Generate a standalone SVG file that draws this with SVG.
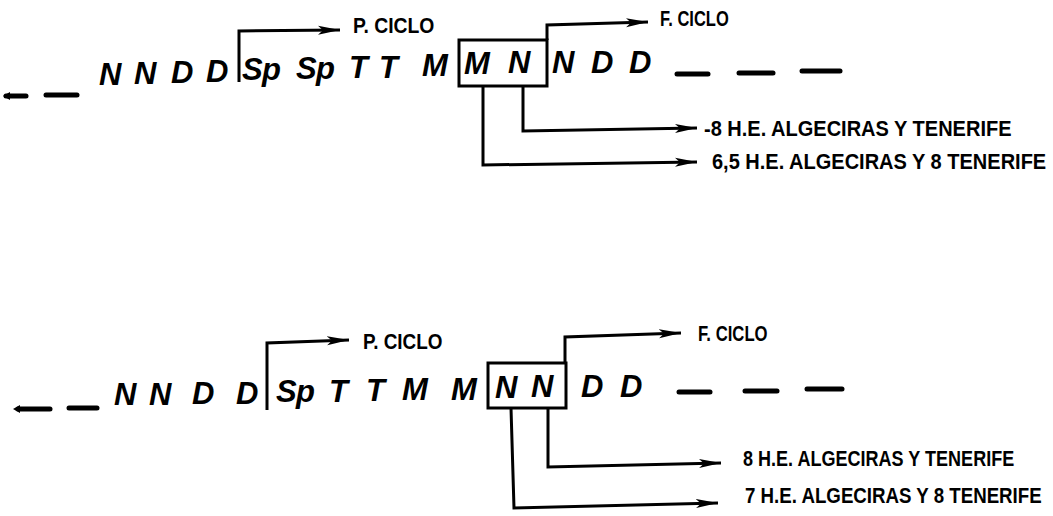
<svg xmlns="http://www.w3.org/2000/svg" width="1053" height="516" viewBox="0 0 1053 516">
<defs>
<marker id="ah" markerUnits="userSpaceOnUse" markerWidth="24" markerHeight="12" refX="22" refY="5" orient="auto">
<path d="M0,0.5 L22,5 L0,9.5 L5,5 z" fill="#000"/>
</marker>
</defs>
<style>
.seq{font-family:"Liberation Sans",Arial,sans-serif;font-weight:bold;font-style:italic;font-size:31px;fill:#000}
.lbl{font-family:"Liberation Sans",Arial,sans-serif;font-weight:bold;font-size:22px;fill:#000}
.ln{fill:none;stroke:#000;stroke-width:3;stroke-linejoin:miter}
.dash{stroke:#000;stroke-width:5;stroke-linecap:round}
.box{fill:none;stroke:#000;stroke-width:3}
</style>
<rect width="1053" height="516" fill="#fff"/>

<!-- TOP DIAGRAM -->
<g id="top-sequence">
<line class="dash" x1="6" y1="96" x2="26" y2="96"/>
<path d="M3,96 L10,92 L10,100 z" fill="#000"/>
<line class="dash" x1="46" y1="95" x2="77" y2="95"/>
<text class="seq" x="99 134 171 206" y="85 84 83 82">NNDD</text>
<text class="seq" x="242 262 296 316 349 379 422" y="80 80 79 79 78 78 76">SpSpTTM</text>
<text class="seq" x="552 591 629" y="73 73 73">NDD</text>
<line class="dash" x1="677" y1="74" x2="708" y2="74"/>
<line class="dash" x1="739" y1="73" x2="773" y2="73"/>
<line class="dash" x1="802" y1="71" x2="840" y2="71" stroke-width="6"/>
</g>
<g id="top-box">
<rect class="box" x="459" y="40" width="88" height="46"/>
<text class="seq" x="464 508" y="74 73">MN</text>
</g>
<g id="top-labels">
<text class="lbl" transform="translate(353,33) scale(0.88,1)">P. CICLO</text>
<text class="lbl" transform="translate(660,26) scale(0.75,1)">F. CICLO</text>
<text class="lbl" transform="translate(704,136) scale(0.91,1)">-8 H.E. ALGECIRAS Y TENERIFE</text>
<text class="lbl" transform="translate(712,169) scale(0.91,1)">6,5 H.E. ALGECIRAS Y 8 TENERIFE</text>
</g>
<g id="top-connectors">
<path class="ln" d="M239,82 V31 L340,30" marker-end="url(#ah)"/>
<path class="ln" d="M547,40 V25 L648,22" marker-end="url(#ah)"/>
<path class="ln" d="M523,86 V131 L697,128" marker-end="url(#ah)"/>
<path class="ln" d="M483,86 V165 L697,162" marker-end="url(#ah)"/>
</g>

<!-- BOTTOM DIAGRAM -->
<g id="bottom-sequence">
<line class="dash" x1="18" y1="409" x2="50" y2="409"/>
<path d="M13,409 L20,405 L20,413 z" fill="#000"/>
<line class="dash" x1="69" y1="408" x2="97" y2="408"/>
<text class="seq" x="114 149 192 236" y="405 405 404 404">NNDD</text>
<text class="seq" x="276 296 329 366 402 451" y="402 402 402 401 400 400">SpTTMM</text>
<text class="seq" x="581 620" y="397 397">DD</text>
<line class="dash" x1="679" y1="392" x2="710" y2="392"/>
<line class="dash" x1="745" y1="391" x2="777" y2="391"/>
<line class="dash" x1="807" y1="389" x2="842" y2="389"/>
</g>
<g id="bottom-box">
<rect class="box" x="488" y="363" width="78" height="45"/>
<text class="seq" x="495 531" y="398 397">NN</text>
</g>
<g id="bottom-labels">
<text class="lbl" transform="translate(363,349) scale(0.86,1)">P. CICLO</text>
<text class="lbl" transform="translate(698,341) scale(0.76,1)">F. CICLO</text>
<text class="lbl" transform="translate(743,466) scale(0.82,1)">8 H.E. ALGECIRAS Y TENERIFE</text>
<text class="lbl" transform="translate(745,503) scale(0.85,1)">7 H.E. ALGECIRAS Y 8 TENERIFE</text>
</g>
<g id="bottom-connectors">
<path class="ln" d="M267,410 V343 L349,340" marker-end="url(#ah)"/>
<path class="ln" d="M565,363 V337 L681,333" marker-end="url(#ah)"/>
<path class="ln" d="M548,408 V467 L721,463" marker-end="url(#ah)"/>
<path class="ln" d="M511,408 L514,508 L718,503" marker-end="url(#ah)"/>
</g>
</svg>
